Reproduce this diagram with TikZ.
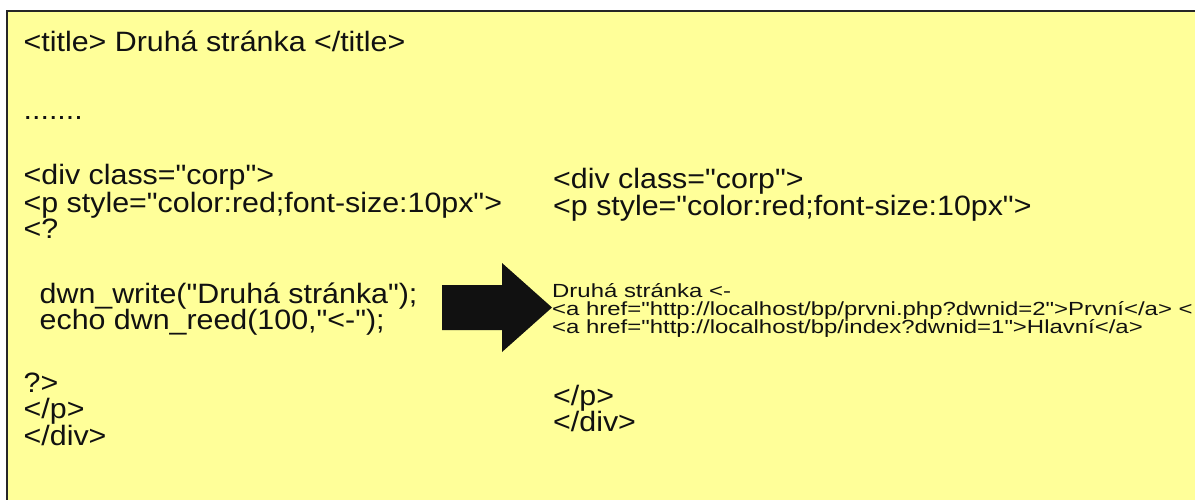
\documentclass[tikz,border=0pt]{standalone}
\usepackage{fontspec}
% straight typewriter-style quotes, no TeX quote ligatures
\setmainfont{Liberation Sans}[Ligatures=TeXOff]
\usepackage{graphicx}
\definecolor{note}{HTML}{FFFF99}
\definecolor{ink}{HTML}{111111}
% the lettering is a little wider than plain Arial
\newcommand\widetext[1]{\scalebox{1.085}[1]{#1}}
\newcommand\widesmall[1]{\scalebox{1.26}[1]{#1}}
\tikzset{
  bigcode/.style={anchor=base west, inner sep=0pt, text=ink,
    font=\fontsize{28}{27}\selectfont},
  smallcode/.style={anchor=base west, inner sep=0pt, text=ink,
    font=\fontsize{19}{18}\selectfont},
}
\begin{document}
\begin{tikzpicture}[x=1pt,y=-1pt]
\useasboundingbox (0,0) rectangle (1195,500);
\clip (0,0) rectangle (1195,500);
\fill[white] (0,0) rectangle (1195,500);
% note sheet, running off the right and bottom edges
\filldraw[fill=note, draw=black!85, line width=2pt] (7,11) rectangle (1215,515);

% source page
\node[bigcode] (title) at (23.5,52) {\widetext{<title> Druhá stránka </title>}};
\node[bigcode] (dots)  at (23.5,120) {\widetext{.......}};
\node[bigcode] (ldiv)  at (23.5,185) {\widetext{<div class="corp">}};
\node[bigcode] (lp)    at (23.5,212) {\widetext{<p style="color:red;font-size:10px">}};
\node[bigcode] (lopen) at (23.5,239) {\widetext{<?}};
\node[bigcode] (write) at (39.5,303) {\widetext{dwn\_write("Druhá stránka");}};
\node[bigcode] (echo)  at (39.5,329) {\widetext{echo dwn\_reed(100,"<-");}};
\node[bigcode] (lclose) at (23.5,392) {\widetext{?>}};
\node[bigcode] (lendp) at (23.5,418.5) {\widetext{</p>}};
\node[bigcode] (lenddiv) at (23.5,445) {\widetext{</div>}};

% block arrow
\fill[ink] (442,285) -- (502,285) -- (502,263) -- (552,307.5)
  -- (502,352) -- (502,330) -- (442,330) -- cycle;

% generated output
\node[bigcode] (rdiv) at (553,189) {\widetext{<div class="corp">}};
\node[bigcode] (rp)   at (553,215) {\widetext{<p style="color:red;font-size:10px">}};
\node[smallcode] (out1) at (552,297) {\widesmall{Druhá stránka <-}};
\node[smallcode] (out2) at (552,315) {\widesmall{<a href="http://localhost/bp/prvni.php?dwnid=2">První</a> <}};
\node[smallcode] (out3) at (552,333) {\widesmall{<a href="http://localhost/bp/index?dwnid=1">Hlavní</a>}};
\node[bigcode] (rendp)   at (553,405) {\widetext{</p>}};
\node[bigcode] (renddiv) at (553,431) {\widetext{</div>}};
\end{tikzpicture}
\end{document}
